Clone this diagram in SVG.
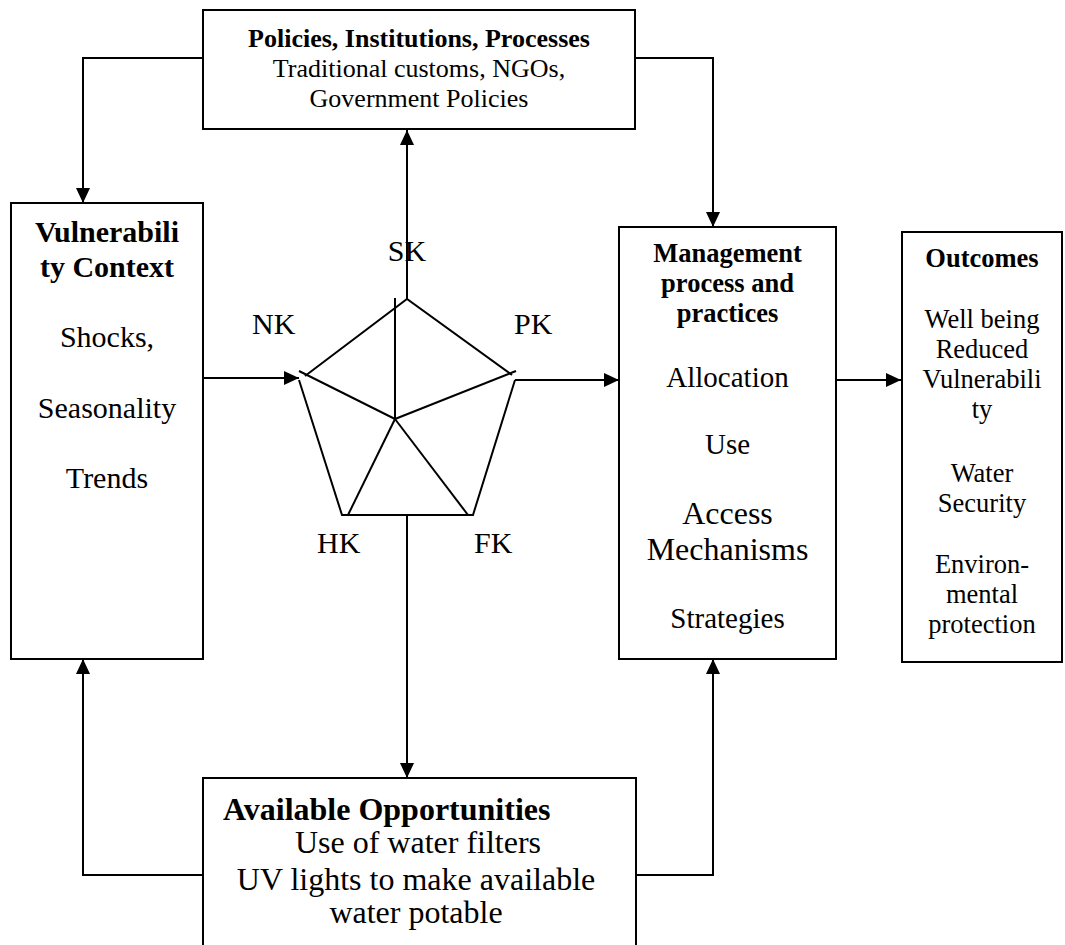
<svg xmlns="http://www.w3.org/2000/svg" width="1065" height="945" viewBox="0 0 1065 945">
  <style>
    .box { fill: #ffffff; stroke: #000000; stroke-width: 2; }
    .ln { fill: none; stroke: #000000; stroke-width: 2; }
    .arr { fill: none; stroke: #000000; stroke-width: 2; marker-end: url(#head); }
    text { font-family: "Liberation Serif", "Times New Roman", serif; fill: #000000; }
    .c { text-anchor: middle; }
    .b { font-weight: bold; }
  </style>
  <defs>
    <marker id="head" viewBox="0 0 15 14" refX="15" refY="7" markerWidth="15" markerHeight="14" markerUnits="userSpaceOnUse" orient="auto">
      <path d="M0,0 L15,7 L0,14 z" fill="#000000"/>
    </marker>
  </defs>

  <!-- connectors -->
  <g id="connectors">
    <polyline class="arr" points="203,58 83,58 83,203"/>
    <polyline class="arr" points="635,58 713,58 713,227"/>
    <line class="arr" x1="407" y1="299" x2="407" y2="130"/>
    <line class="arr" x1="407" y1="515" x2="407" y2="778"/>
    <line class="arr" x1="203" y1="378" x2="299" y2="378"/>
    <line class="arr" x1="515" y1="380" x2="619" y2="380"/>
    <line class="arr" x1="836" y1="380" x2="901" y2="380"/>
    <polyline class="arr" points="203,875 83,875 83,659"/>
    <polyline class="arr" points="636,875 713,875 713,659"/>
  </g>

  <!-- policies, institutions, processes -->
  <g id="pip">
    <rect class="box" x="203" y="10" width="432" height="119"/>
    <text class="c b" x="419" y="47" font-size="26">Policies, Institutions, Processes</text>
    <text class="c" x="419" y="77" font-size="26">Traditional customs, NGOs,</text>
    <text class="c" x="419" y="107" font-size="26">Government Policies</text>
  </g>

  <!-- vulnerability context -->
  <g id="vulnerability">
    <rect class="box" x="11" y="203" width="192" height="456"/>
    <text class="c b" x="107" y="242" font-size="30">Vulnerabili</text>
    <text class="c b" x="107" y="277" font-size="30">ty Context</text>
    <text class="c" x="107" y="347" font-size="30">Shocks,</text>
    <text class="c" x="107" y="418" font-size="30">Seasonality</text>
    <text class="c" x="107" y="488" font-size="30">Trends</text>
  </g>

  <!-- capital pentagon -->
  <g id="capitals">
    <polyline class="ln" points="305,376 407,299 512,375"/>
    <polyline class="ln" points="299,380 342,515 473,515 515,380"/>
    <line class="ln" x1="395" y1="419" x2="299" y2="371"/>
    <line class="ln" x1="395" y1="419" x2="516" y2="371"/>
    <line class="ln" x1="395" y1="419" x2="395" y2="298"/>
    <line class="ln" x1="395" y1="419" x2="348" y2="515"/>
    <line class="ln" x1="395" y1="419" x2="468" y2="515"/>
    <text class="c" x="407" y="261" font-size="30">SK</text>
    <text x="252" y="334" font-size="30">NK</text>
    <text x="514" y="334" font-size="30">PK</text>
    <text x="317" y="553" font-size="30">HK</text>
    <text x="474" y="553" font-size="30">FK</text>
  </g>

  <!-- management process and practices -->
  <g id="management">
    <rect class="box" x="619" y="227" width="217" height="432"/>
    <text class="c b" x="727.5" y="262" font-size="26.5">Management</text>
    <text class="c b" x="727.5" y="292" font-size="26.5">process and</text>
    <text class="c b" x="727.5" y="322" font-size="26.5">practices</text>
    <text class="c" x="727.5" y="387" font-size="29">Allocation</text>
    <text class="c" x="727.5" y="454" font-size="29">Use</text>
    <text class="c" x="727.5" y="524" font-size="32">Access</text>
    <text class="c" x="727.5" y="560" font-size="32">Mechanisms</text>
    <text class="c" x="727.5" y="628" font-size="29">Strategies</text>
  </g>

  <!-- outcomes -->
  <g id="outcomes">
    <rect class="box" x="902" y="232" width="160" height="430"/>
    <text class="c b" x="982" y="267" font-size="26.5">Outcomes</text>
    <text class="c" x="982" y="328" font-size="26.5">Well being</text>
    <text class="c" x="982" y="358" font-size="26.5">Reduced</text>
    <text class="c" x="982" y="388" font-size="26.5">Vulnerabili</text>
    <text class="c" x="982" y="418" font-size="26.5">ty</text>
    <text class="c" x="982" y="482" font-size="26.5">Water</text>
    <text class="c" x="982" y="512" font-size="26.5">Security</text>
    <text class="c" x="982" y="573" font-size="26.5">Environ-</text>
    <text class="c" x="982" y="603" font-size="26.5">mental</text>
    <text class="c" x="982" y="633" font-size="26.5">protection</text>
  </g>

  <!-- available opportunities -->
  <g id="opportunities">
    <rect class="box" x="203" y="778" width="433" height="180"/>
    <text class="b" x="223" y="820" font-size="32">Available Opportunities</text>
    <text class="c" x="418" y="853" font-size="32">Use of water filters</text>
    <text class="c" x="416" y="890" font-size="32">UV lights to make available</text>
    <text class="c" x="416" y="923" font-size="32">water potable</text>
  </g>
</svg>
